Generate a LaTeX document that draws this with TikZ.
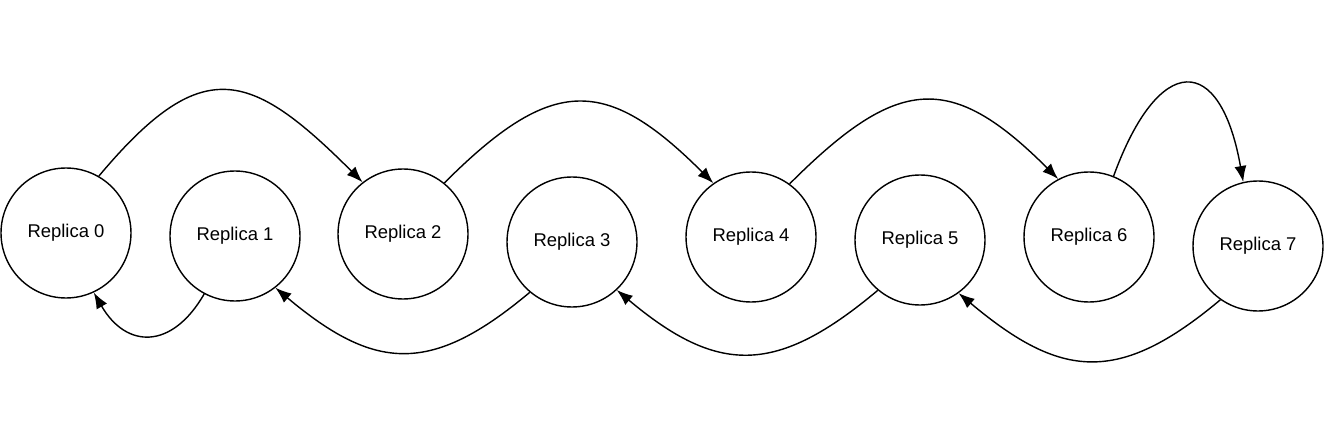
\documentclass[tikz,border=0pt]{standalone}
\usepackage{fontspec}
\setmainfont{Liberation Sans}
\usetikzlibrary{arrows.meta}
\begin{document}
\begin{tikzpicture}[
        x=0.02cm, y=-0.02cm,
        replica/.style={circle, draw, thick, minimum size=2.6cm, inner sep=0pt, font=\fontsize{10.5}{12}\selectfont},
        hop/.style={draw, thick, -{Latex[length=3.2mm,width=2.4mm]}}
    ]
        \useasboundingbox (0,0) rectangle (1326,446);
        % Define replicas
        \node[replica] (R0) at (66,233) {Replica 0};
        \node[replica] (R1) at (235,236) {Replica 1};
        \node[replica] (R2) at (403,234) {Replica 2};
        \node[replica] (R3) at (572,242) {Replica 3};
        \node[replica] (R4) at (751,237) {Replica 4};
        \node[replica] (R5) at (920,240) {Replica 5};
        \node[replica] (R6) at (1089,237) {Replica 6};
        \node[replica] (R7) at (1258,246) {Replica 7};

        % Forward hops (top)
        \draw[hop] (R0.60) to[out=50, in=135, looseness=1.55] (R2.128);
        \draw[hop] (R2.51) to[out=45, in=135, looseness=1.45] (R4.125);
        \draw[hop] (R4.54) to[out=45, in=135, looseness=1.45] (R6.118);
        \draw[hop] (R6.68) to[out=70, in=100, looseness=2.6] (R7.103);

        % Backward hops (bottom)
        \draw[hop] (R1.242) to[out=240, in=300, looseness=1.5] (R0.295);
        \draw[hop] (R3.230) to[out=220, in=320, looseness=1.3] (R1.308);
        \draw[hop] (R5.230) to[out=220, in=320, looseness=1.3] (R3.313);
        \draw[hop] (R7.235) to[out=220, in=320, looseness=1.3] (R5.306);
    \end{tikzpicture}
\end{document}
